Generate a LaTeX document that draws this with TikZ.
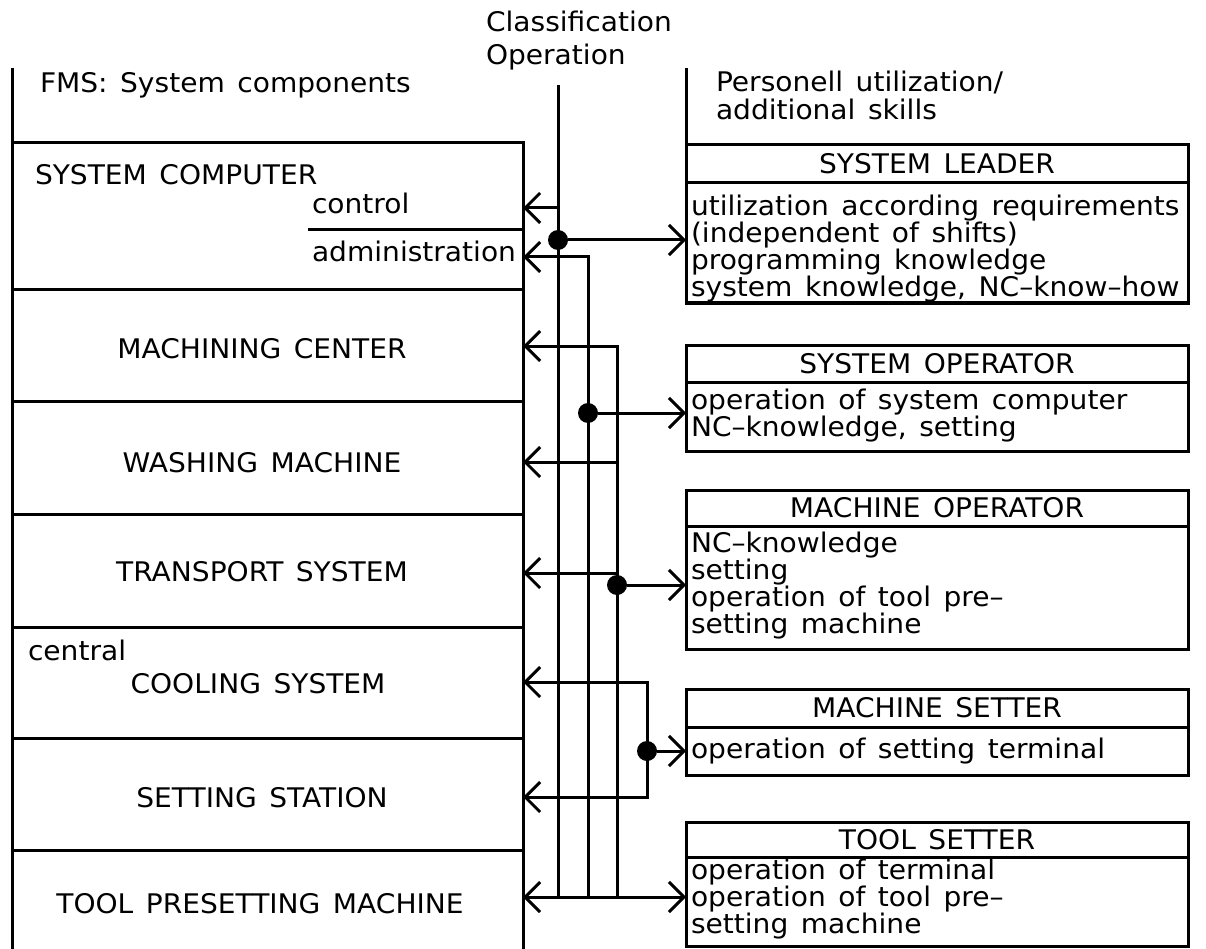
\documentclass[tikz,border=0pt]{standalone}
\usepackage{fontspec}
\setmainfont{DejaVu Sans}[FakeStretch=1.04, WordSpace=1.4]
\usetikzlibrary{arrows.meta}
\begin{document}
\begin{tikzpicture}[x=1pt,y=-1pt,line width=3pt,
  >={Straight Barb[length=15pt,width=30pt]},
  txt/.style={inner sep=0pt, outer sep=0pt, font=\fontsize{27}{27}\selectfont},
  comp/.style={draw, inner sep=0pt, outer sep=0pt, anchor=north west, minimum width=511pt},
  rbox/.style={draw, inner sep=0pt, outer sep=0pt, anchor=north west, minimum width=502pt, font=\fontsize{27}{27}\selectfont},
  body/.style={txt, anchor=north west, align=left},
  dot/.style={circle, fill, inner sep=0pt, outer sep=0pt, minimum size=20pt}]
\useasboundingbox (0,0) rectangle (1206,949);

% headings
\node[txt, anchor=base west] (hcl) at (486,32) {Classification};
\node[txt, anchor=base west] (hop) at (486,65) {Operation};
\node[txt, anchor=base west] (hfms) at (40,93) {FMS: System components};
\node[txt, anchor=base west] (hp1) at (716,92) {Personell utilization/};
\node[txt, anchor=base west] (hp2) at (716,120) {additional skills};

% left column: system components
\node[comp, minimum height=147pt] (sc) at (12,143) {};
\node[comp, minimum height=111pt] (mc) at (12,290) {};
\node[comp, minimum height=113pt] (wm) at (12,401) {};
\node[comp, minimum height=113pt] (tr) at (12,514) {};
\node[comp, minimum height=111pt] (cs) at (12,627) {};
\node[comp, minimum height=112pt] (ss) at (12,738) {};
\node[comp, minimum height=125pt] (tp) at (12,850) {};
\coordinate (ltop) at (12,68);
\draw (ltop) -- (sc.north west);

\node[txt, anchor=base west] (scT) at (35,185) {SYSTEM COMPUTER};
\node[txt, anchor=base west] (ctrlT) at (312,214) {control};
\node[txt, anchor=base west] (admT) at (312,262) {administration};
\coordinate (ctrlL) at (308,230);
\draw (ctrlL) -- (ctrlL -| sc.east);
\node[txt, anchor=base] (mcT) at (262,358) {MACHINING CENTER};
\node[txt, anchor=base] (wmT) at (262,472) {WASHING MACHINE};
\node[txt, anchor=base] (trT) at (262,581) {TRANSPORT SYSTEM};
\node[txt, anchor=base west] (cenT) at (28,660) {central};
\node[txt, anchor=base] (csT) at (258,693) {COOLING SYSTEM};
\node[txt, anchor=base] (ssT) at (262,807) {SETTING STATION};
\node[txt, anchor=base] (tpT) at (260,913) {TOOL PRESETTING MACHINE};

% right column: personnel
\coordinate (rtop) at (686,68);
\node[rbox, minimum height=38pt] (slH) at (686,145) {SYSTEM LEADER};
\node[rbox, minimum height=120pt] (slB) at (686,183) {};
\draw (rtop) -- (slH.north west);
\node[body] (slT) at (691,195) {utilization according requirements\\(independent of shifts)\\programming knowledge\\system knowledge, NC–know–how};

\node[rbox, minimum height=37pt] (soH) at (686,345) {SYSTEM OPERATOR};
\node[rbox, minimum height=69pt] (soB) at (686,382) {};
\node[body] (soT) at (691,389) {operation of system computer\\NC–knowledge, setting};

\node[rbox, minimum height=36pt] (moH) at (686,490) {MACHINE OPERATOR};
\node[rbox, minimum height=123pt] (moB) at (686,526) {};
\node[body] (moT) at (691,532) {NC–knowledge\\setting\\operation of tool pre–\\setting machine};

\node[rbox, minimum height=38pt] (msH) at (686,689) {MACHINE SETTER};
\node[rbox, minimum height=48pt] (msB) at (686,727) {};
\node[body] (msT) at (691,738) {operation of setting terminal};

\node[rbox, minimum height=35pt] (tsH) at (686,822) {TOOL SETTER};
\node[rbox, minimum height=89pt] (tsB) at (686,857) {};
\node[body] (tsT) at (691,859) {operation of terminal\\operation of tool pre–\\setting machine};

% classification bus
\coordinate (Atop) at (558,85);
\coordinate (Abot) at (558,897);
\coordinate (Actrl) at (558,208);
\coordinate (Btop) at (588,257);
\coordinate (Bbot) at (588,897);
\coordinate (Ctop) at (617,346);
\coordinate (Cbot) at (617,897);
\coordinate (Cwm) at (617,462);
\coordinate (Ctr) at (617,573);
\coordinate (Dtop) at (647,682);
\coordinate (Dbot) at (647,797);

\draw (Atop) -- (Abot);
\draw[->] (Actrl) -- (Actrl -| sc.east);
\draw[->] (Bbot) -- (Btop) -- (Btop -| sc.east);
\draw[->] (Cbot) -- (Ctop) -- (Ctop -| mc.east);
\draw[->] (Cwm) -- (Cwm -| wm.east);
\draw[->] (Ctr) -- (Ctr -| tr.east);
\draw[<->] (Dtop -| cs.east) -- (Dtop) -- (Dbot) -- (Dbot -| ss.east);
\draw[<->] (Abot -| tp.east) -- (Abot -| tsB.west);

\node[dot] (d1) at (558,240) {};
\node[dot] (d2) at (588,413) {};
\node[dot] (d3) at (617,585) {};
\node[dot] (d4) at (647,751) {};
\draw[->] (d1) -- (d1 -| slB.west);
\draw[->] (d2) -- (d2 -| soB.west);
\draw[->] (d3) -- (d3 -| moB.west);
\draw[->] (d4) -- (d4 -| msB.west);
\end{tikzpicture}
\end{document}
